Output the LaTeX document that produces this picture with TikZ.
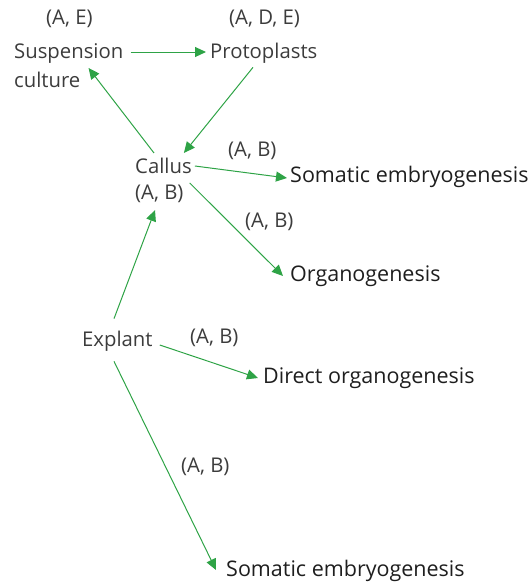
\documentclass[tikz,border=0pt]{standalone}
\usepackage{fontspec}
\setmainfont{Open Sans}
\usetikzlibrary{arrows.meta,calc}
\definecolor{arrgreen}{HTML}{2EA346}
\definecolor{txtgray}{HTML}{3C3C3C}
\definecolor{txtdark}{HTML}{1E1E1E}
\begin{document}
\begin{tikzpicture}[x=1pt,y=-1pt,
  lbl/.style={inner sep=0pt,anchor=west,text=txtgray,font=\fontsize{20.3}{24}\selectfont},
  res/.style={inner sep=0pt,anchor=west,text=txtdark,font=\fontsize{21.5}{26}\selectfont},
  arr/.style={draw=arrgreen,line width=1pt,-{Triangle[length=11pt,width=10pt]}}]
\useasboundingbox (0,0) rectangle (532,582);
% nodes
\node[lbl] (ae) at (46,19) {(A, E)};
\node[lbl] (ade) at (229,19) {(A, D, E)};
\node[lbl] (susp) at (14,53) {Suspension};
\node[lbl] (cult) at (14,80) {culture};
\node[lbl] (proto) at (210,53) {Protoplasts};
\node[lbl] (callus) at (135,166) {Callus};
\node[lbl] (cab) at (135,194) {(A, B)};
\node[lbl] (l1) at (228,151) {(A, B)};
\node[res] (se1) at (290,177) {Somatic embryogenesis};
\node[lbl] (l2) at (245,222) {(A, B)};
\node[res] (org) at (290,276) {Organogenesis};
\node[lbl] (expl) at (82,341) {Explant};
\node[lbl] (l3) at (190,338) {(A, B)};
\node[res] (dorg) at (263,378) {Direct organogenesis};
\node[lbl] (l4) at (181,467) {(A, B)};
\node[res] (se2) at (226,571) {Somatic embryogenesis};
% connectors
\draw[arr] ($(susp.east)+(7,-1)$) -- ($(proto.west)+(-4,-1)$);
\draw[arr] ($(proto.south west)+(43,4)$) -- ($(callus.north east)+(-8,-5)$);
\draw[arr] ($(callus.north west)+(19,-5)$) -- ($(cult.north east)+(8,-4)$);
\draw[arr] ($(callus.east)+(3,0)$) -- ($(se1.west)+(-3,1)$);
\draw[arr] ($(cab.north east)+(6,-2)$) -- ($(org.west)+(-7,0)$);
\draw[arr] ($(expl.north west)+(32,-12)$) -- ($(cab.south west)+(20,7)$);
\draw[arr] ($(expl.east)+(7,4)$) -- ($(dorg.west)+(-5,0)$);
\draw[arr] ($(expl.south west)+(32,10)$) -- ($(se2.west)+(-10,-1)$);
\end{tikzpicture}
\end{document}
